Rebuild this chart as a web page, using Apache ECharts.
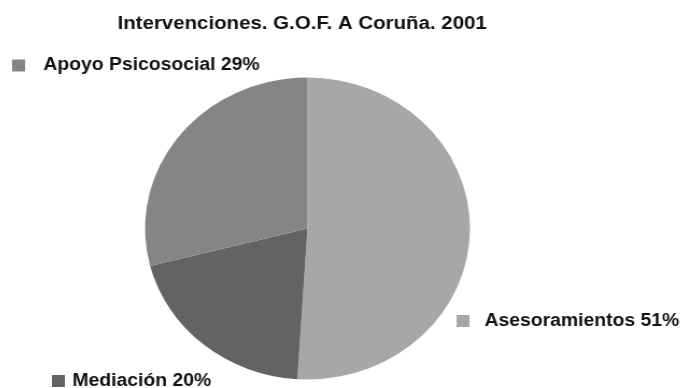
<!DOCTYPE html>
<html>
<head>
<meta charset="utf-8">
<script src="https://cdn.jsdelivr.net/npm/echarts@6/dist/echarts.min.js"></script>
<style>
  html, body { margin: 0; padding: 0; background: #ffffff; overflow: hidden; width: 683px; height: 388px; }
  /* the printed chart is slightly wider than tall: stretch horizontally around the pie centre */
  #chart { width: 683px; height: 388px; transform: scaleX(1.076); transform-origin: 307.5px 0; }
</style>
</head>
<body>
<div id="chart"></div>
<script>
// Interventions by type, A Coruña 2001 (percent of total)
const categories = ['Asesoramientos', 'Mediación', 'Apoyo Psicosocial'];
const shares = [51, 20, 29];
const sliceColors = ['#a7a7a7', '#636363', '#858585'];
const chartTitle = 'Intervenciones. G.O.F. A Coruña. 2001';

const pieData = categories.map((name, i) => ({
  name: name,
  value: shares[i],
  itemStyle: { color: sliceColors[i] }
}));

function labelFor(name) {
  const i = categories.indexOf(name);
  return name + ' ' + shares[i] + '%';
}

const labelFont = {
  fontFamily: 'Liberation Sans',
  fontWeight: 'bold',
  fontSize: 18,
  color: '#111111',
  lineHeight: 20
};

// one key per slice, each placed beside its own wedge
function sliceKey(name, pos, textPad) {
  return Object.assign({
    data: [name],
    orient: 'horizontal',
    icon: 'rect',
    itemWidth: 12,
    itemHeight: 12,
    selectedMode: false,
    padding: 0,
    formatter: labelFor,
    textStyle: Object.assign({ padding: textPad }, labelFont)
  }, pos);
}

const chart = echarts.init(document.getElementById('chart'), null, { renderer: 'canvas' });
chart.setOption({
  backgroundColor: '#ffffff',
  animation: false,
  title: {
    text: chartTitle,
    left: 297.5,
    top: 9,
    textAlign: 'center',
    textStyle: {
      fontFamily: 'Liberation Sans',
      fontWeight: 'bold',
      fontSize: 19,
      color: '#111111'
    }
  },
  legend: [
    sliceKey('Apoyo Psicosocial', { left: 33, top: 53 }, [5, 0, 0, 12]),
    sliceKey('Asesoramientos', { left: 446, top: 311 }, [0, 0, 0, 9]),
    sliceKey('Mediación', { left: 70, top: 370 }, [2, 0, 0, 2])
  ],
  series: [{
    type: 'pie',
    center: [307.5, 228.5],
    radius: 151,
    startAngle: 90,
    clockwise: true,
    silent: true,
    label: { show: false },
    labelLine: { show: false },
    itemStyle: { borderWidth: 0 },
    data: pieData
  }]
});
</script>
</body>
</html>
